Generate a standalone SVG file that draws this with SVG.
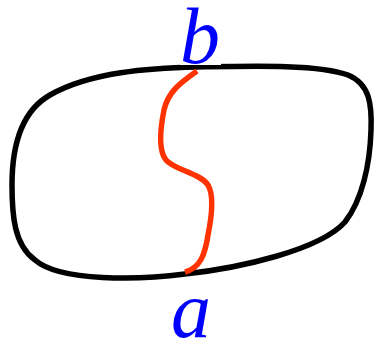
<svg xmlns="http://www.w3.org/2000/svg" width="375" height="344" viewBox="0 0 375 344">
<style>
.lbl{font-family:"Liberation Serif","DejaVu Serif",serif;font-style:italic;font-size:80px;fill:#0000ff;text-anchor:middle}
.blob{fill:none;stroke:#000;stroke-width:5.5;stroke-linejoin:round}
.cut{fill:none;stroke:#ff3300;stroke-width:5.5;stroke-linecap:butt}
</style>
<rect width="375" height="344" fill="#fff"/>
<g id="connectors">
<path id="region" class="blob" d="M197,67 C250,66 320,64 348,75 C370,84 372,105 371,130 C370,165 362,200 345,222 C320,250 240,268 185,274 C140,280 60,282 35,260 C14,245 12,215 12,185 C12,150 20,112 50,95 C90,72 150,68 197,67 Z"/>
<path id="cutpath" class="cut" d="M197,71 C180,83 168,92 164,110 C160,130 158,150 166,160 C174,170 200,173 208,185 C214,195 212,215 208,235 C205,255 200,268 185,272"/>
</g>
<g id="node-b">
<rect x="180" y="10" width="41" height="55" fill="#fff"/>
<text class="lbl" x="200" y="63">b</text>
</g>
<g id="node-a">
<text class="lbl" x="191" y="337">a</text>
</g>
</svg>
